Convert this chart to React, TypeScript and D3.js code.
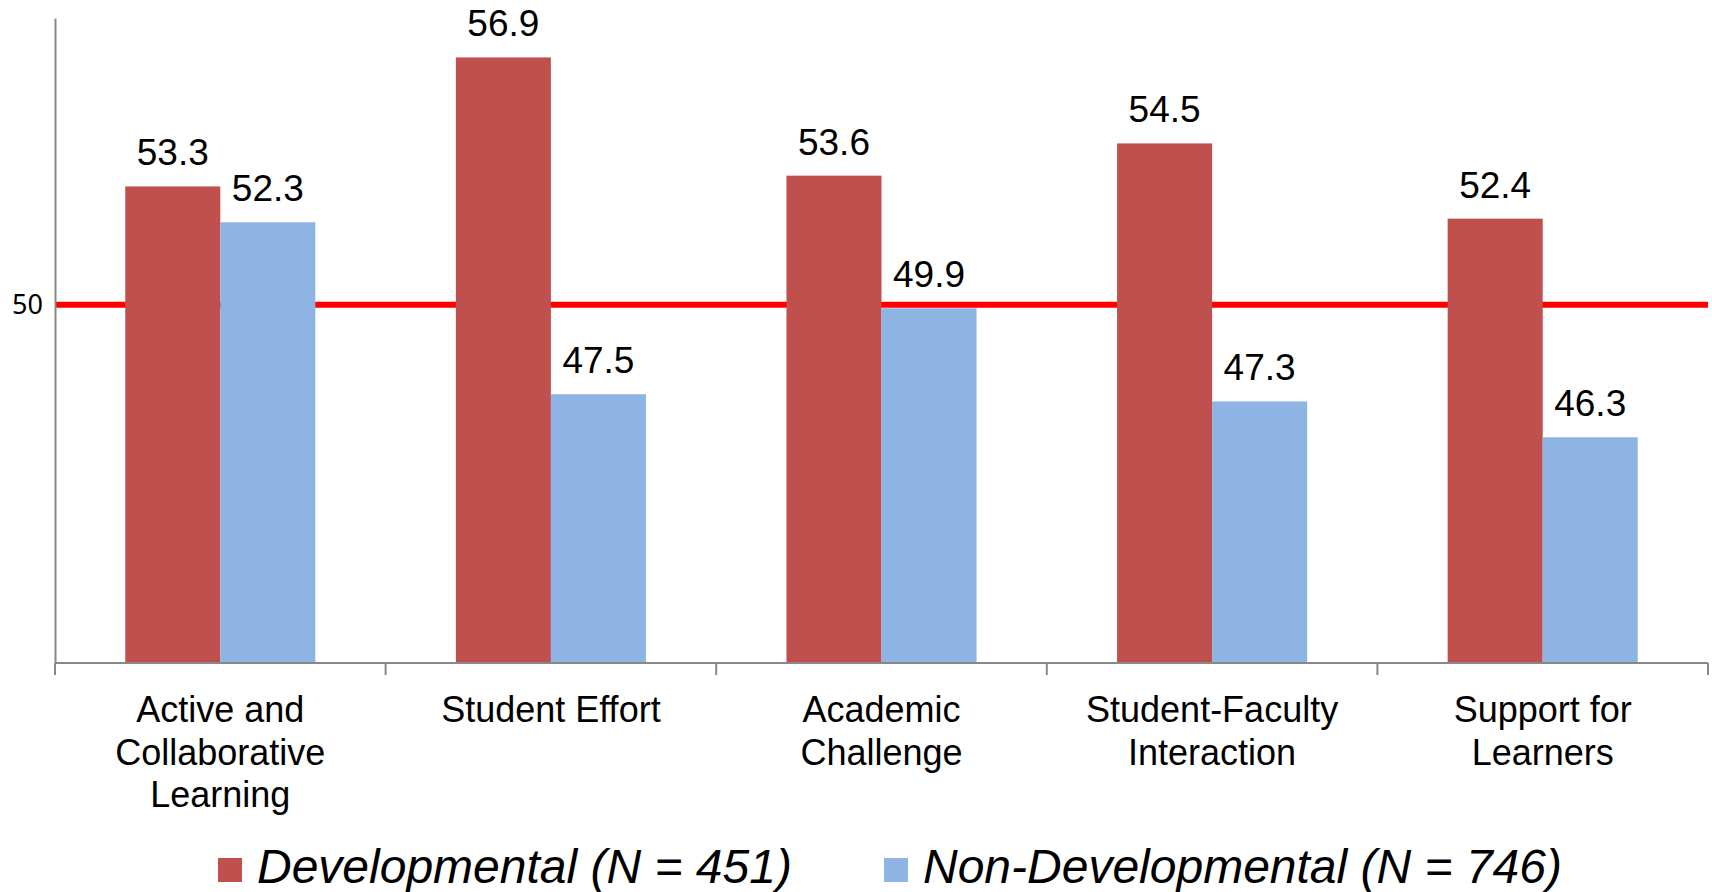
import React, { useRef, useEffect } from 'react';
import * as d3 from 'd3';

const categories = [
  ['Active and', 'Collaborative', 'Learning'],
  ['Student Effort'],
  ['Academic', 'Challenge'],
  ['Student-Faculty', 'Interaction'],
  ['Support for', 'Learners'],
];
const developmental = [53.3, 56.9, 53.6, 54.5, 52.4];
const nonDevelopmental = [52.3, 47.5, 49.9, 47.3, 46.3];
const seriesNames = ['Developmental (N = 451)', 'Non-Developmental (N = 746)'];
const seriesColors = ['#C0504D', '#8EB4E3'];
const yTicks = [50];
const referenceValue = 50;

const App: React.FC = () => {
  const chartRef = useRef<SVGSVGElement>(null);

  useEffect(() => {
    if (!chartRef.current) return;
    d3.select(chartRef.current).selectAll('*').remove();

    const width = 1712;
    const height = 892;
    const margin = { top: 18, right: 4, bottom: 229, left: 55 };
    const innerW = width - margin.left - margin.right;
    const innerH = height - margin.top - margin.bottom;
    const font = '"Liberation Sans", Arial, sans-serif';

    const svg = d3.select(chartRef.current)
      .attr('width', width)
      .attr('height', height)
      .append('g')
      .attr('transform', `translate(${margin.left},${margin.top})`);

    const keys = categories.map((_, i) => String(i));
    const x0 = d3.scaleBand().domain(keys).range([0, innerW]).padding(0);
    const x1 = d3.scaleBand()
      .domain(['0', '1'])
      .range([x0.bandwidth() * 0.2125, x0.bandwidth() * 0.7875])
      .padding(0);
    const y = d3.scaleLinear().domain([40, 58]).range([innerH, 0]);

    // reference line (behind the bars)
    svg.append('line')
      .attr('x1', 0)
      .attr('x2', innerW)
      .attr('y1', y(referenceValue))
      .attr('y2', y(referenceValue))
      .attr('stroke', '#FF0000')
      .attr('stroke-width', 6);

    const series = [developmental, nonDevelopmental];

    series.forEach((vals, s) => {
      svg.selectAll(`.bar-${s}`)
        .data(vals)
        .enter()
        .append('rect')
        .attr('class', `bar-${s}`)
        .attr('x', (_, i) => (x0(String(i)) || 0) + (x1(String(s)) || 0))
        .attr('y', d => y(d))
        .attr('width', x1.bandwidth())
        .attr('height', d => innerH - y(d))
        .attr('fill', seriesColors[s]);

      svg.selectAll(`.label-${s}`)
        .data(vals)
        .enter()
        .append('text')
        .attr('class', `label-${s}`)
        .attr('x', (_, i) => (x0(String(i)) || 0) + (x1(String(s)) || 0) + x1.bandwidth() / 2)
        .attr('y', d => y(d) - 21)
        .attr('text-anchor', 'middle')
        .style('font-family', font)
        .style('font-size', '37px')
        .style('fill', '#000')
        .text(d => d.toFixed(1));
    });

    // y axis
    const yAxis = svg.append('g')
      .call(d3.axisLeft(y).tickValues(yTicks).tickSize(0).tickPadding(12));
    yAxis.select('.domain').attr('stroke', '#888888').attr('stroke-width', 2);
    yAxis.selectAll('text')
      .style('font-family', '"Noto Sans", sans-serif')
      .style('font-size', '27px')
      .style('fill', '#000');

    // x axis with ticks between categories
    const xAxis = svg.append('g').attr('transform', `translate(0,${innerH})`);
    xAxis.append('line')
      .attr('x1', 0).attr('x2', innerW)
      .attr('stroke', '#888888').attr('stroke-width', 2);
    xAxis.selectAll('.tick')
      .data(d3.range(categories.length + 1))
      .enter()
      .append('line')
      .attr('x1', i => i * x0.bandwidth())
      .attr('x2', i => i * x0.bandwidth())
      .attr('y1', 0)
      .attr('y2', 12)
      .attr('stroke', '#888888')
      .attr('stroke-width', 2);

    categories.forEach((lines, i) => {
      const t = xAxis.append('text')
        .attr('text-anchor', 'middle')
        .attr('x', (x0(String(i)) || 0) + x0.bandwidth() / 2)
        .attr('y', 59)
        .style('font-family', font)
        .style('font-size', '36px')
        .style('fill', '#000');
      lines.forEach((ln, j) => {
        t.append('tspan')
          .attr('x', (x0(String(i)) || 0) + x0.bandwidth() / 2)
          .attr('dy', j === 0 ? 0 : 42.6)
          .text(ln);
      });
    });

    // legend
    const legendPos = [163, 829];
    const legend = svg.append('g').attr('transform', `translate(0,${innerH})`);
    seriesNames.forEach((name, s) => {
      const item = legend.append('g').attr('transform', `translate(${legendPos[s]},0)`);
      item.append('rect')
        .attr('x', 0)
        .attr('y', 195)
        .attr('width', 24)
        .attr('height', 24)
        .attr('fill', seriesColors[s]);
      item.append('text')
        .attr('x', 39)
        .attr('y', 220)
        .style('font-family', font)
        .style('font-style', 'italic')
        .style('font-size', '48px')
        .style('fill', '#000')
        .text(name);
    });
  }, []);

  return (
    <svg ref={chartRef} style={{ position: 'absolute', left: 0, top: 0, background: '#fff' }}></svg>
  );
};

export default App;
